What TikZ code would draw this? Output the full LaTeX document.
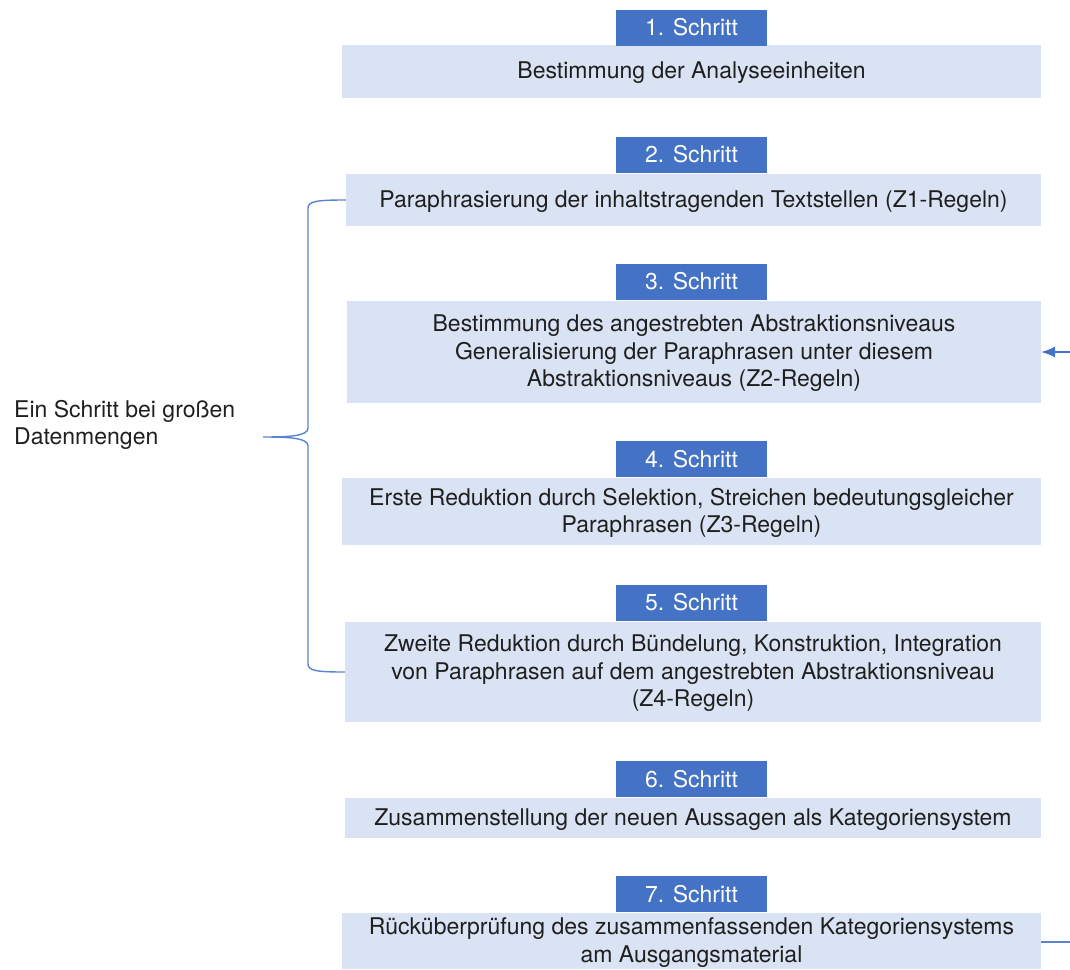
\documentclass[tikz,border=0pt]{standalone}
\usepackage{fontspec}
\setmainfont{TeX Gyre Heros}
\usetikzlibrary{arrows.meta}
\definecolor{dblue}{HTML}{4472C4}
\definecolor{lblue}{HTML}{DAE3F3}
\definecolor{txt}{HTML}{1F1F1F}
\definecolor{lineblue}{HTML}{5B84D0}
\begin{document}
\begin{tikzpicture}[x=1pt,y=-1pt,
  lbox/.style={fill=lblue, draw=none, inner sep=0pt},
  ltext/.style={inner sep=0pt, align=center, text=txt,
     font=\fontsize{23}{27.5}\selectfont},
  stepbox/.style={fill=dblue, draw=none, inner sep=0pt, text=white,
     minimum width=151pt, minimum height=36pt, font=\fontsize{23}{27}\selectfont},
  conn/.style={draw=lineblue, line width=1.4pt}
]
\useasboundingbox (0,0) rectangle (1070,969);

% light boxes
\node[lbox, minimum width=699pt, minimum height=53pt] (b1) at (691.5,71.5) {};
\node[lbox, minimum width=695pt, minimum height=52pt] (b2) at (693.5,200) {};
\node[lbox, minimum width=694pt, minimum height=102pt] (b3) at (694,352) {};
\node[lbox, minimum width=699pt, minimum height=67pt] (b4) at (691.5,511.5) {};
\node[lbox, minimum width=696pt, minimum height=100pt] (b5) at (693,672) {};
\node[lbox, minimum width=696pt, minimum height=40pt] (b6) at (693,818) {};
\node[lbox, minimum width=699pt, minimum height=56pt] (b7) at (691.5,941) {};

% box texts
\node[ltext] (t1) at ([yshift=-1.5pt]b1.center) {Bestimmung der Analyseeinheiten};
\node[ltext] (t2) at ([yshift=-1.5pt]b2.center) {Paraphrasierung der inhaltstragenden Textstellen (Z1-Regeln)};
\node[ltext] (t3) at ([yshift=-1.5pt]b3.center) {Bestimmung des angestrebten Abstraktionsniveaus\\Generalisierung der Paraphrasen unter diesem\\Abstraktionsniveaus (Z2-Regeln)};
\node[ltext] (t4) at ([yshift=-1.5pt]b4.center) {Erste Reduktion durch Selektion, Streichen bedeutungsgleicher\\Paraphrasen (Z3-Regeln)};
\node[ltext] (t5) at ([yshift=-1.5pt]b5.center) {Zweite Reduktion durch Bündelung, Konstruktion, Integration\\von Paraphrasen auf dem angestrebten Abstraktionsniveau\\(Z4-Regeln)};
\node[ltext] (t6) at ([yshift=-1.5pt]b6.center) {Zusammenstellung der neuen Aussagen als Kategoriensystem};
\node[ltext] (t7) at ([yshift=-1.5pt]b7.center) {Rücküberprüfung des zusammenfassenden Kategoriensystems\\am Ausgangsmaterial};

% step labels
\node[stepbox] (s1) at (691.5,27.5) {1. Schritt};
\node[stepbox] (s2) at (691.5,154.5) {2. Schritt};
\node[stepbox] (s3) at (691.5,281.5) {3. Schritt};
\node[stepbox] (s4) at (691.5,459) {4. Schritt};
\node[stepbox] (s5) at (691.5,602.5) {5. Schritt};
\node[stepbox] (s6) at (691.5,779) {6. Schritt};
\node[stepbox] (s7) at (691.5,894) {7. Schritt};

% left label
\node[anchor=west, align=left, inner sep=0pt, text=txt,
  font=\fontsize{23}{27}\selectfont] (big) at (14,425) {Ein Schritt bei großen\\Datenmengen};

% brace
\coordinate (tip) at (263,437);
\draw[conn] (b2.west) .. controls (318,200) and (308,201) .. (308,208)
  -- (308,428) .. controls (308,436) and (290,437) .. (tip)
  .. controls (290,437) and (308,438) .. (308,446)
  -- (308,664) .. controls (308,671) and (318,672) .. (b5.west);

% right connectors
\coordinate (r3) at (1070,352);
\coordinate (r7) at (1070,942);
\draw[conn, draw=dblue, -{Latex[length=14pt,width=11pt]}] (r3) -- (b3.east);
\draw[conn] (b7.east |- r7) -- (r7);
\end{tikzpicture}
\end{document}
